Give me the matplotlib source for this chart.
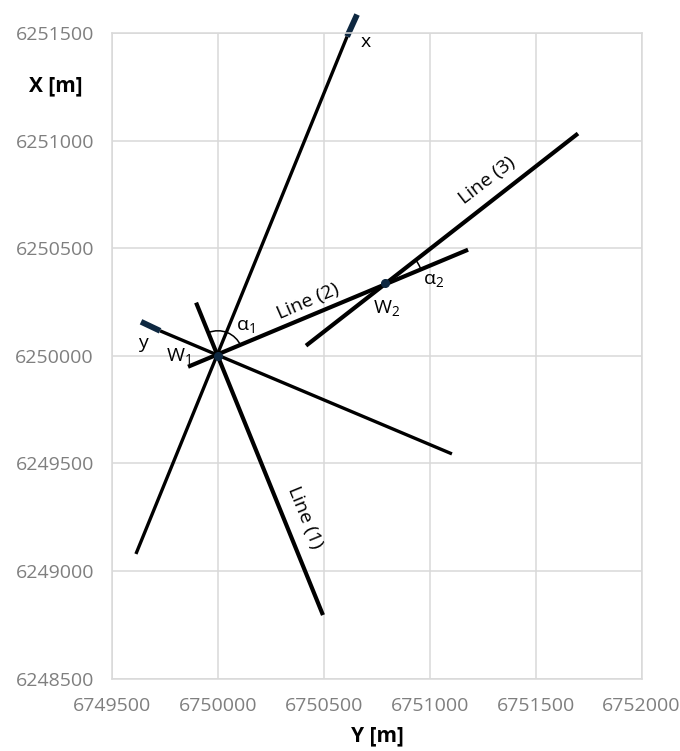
import matplotlib
matplotlib.use("Agg")
import matplotlib.pyplot as plt
from matplotlib.patches import Arc

plt.rcParams["font.family"] = ["Open Sans", "DejaVu Sans"]
plt.rcParams["mathtext.fontset"] = "custom"
plt.rcParams["mathtext.rm"] = "Open Sans"
plt.rcParams["mathtext.it"] = "Open Sans"
plt.rcParams["mathtext.default"] = "regular"

# Coordinates as (Y, X) pairs in metres
W1 = (6750000, 6250000)
W2 = (6750790, 6250340)

axis_x_Y = [6749613, 6750610]
axis_x_X = [6249079, 6251484]
arrow_x_Y = [6750610, 6750657]
arrow_x_X = [6251484, 6251586]

axis_y_Y = [6751105, 6749727]
axis_y_X = [6249544, 6250116]
arrow_y_Y = [6749727, 6749637]
arrow_y_X = [6250116, 6250158]

line1_Y = [6749897, 6750496]
line1_X = [6250247, 6248795]
line2_Y = [6749859, 6751181]
line2_X = [6249949, 6250493]
line3_Y = [6750416, 6751700]
line3_X = [6250047, 6251033]

xticks = [6749500, 6750000, 6750500, 6751000, 6751500, 6752000]
yticks = [6248500, 6249000, 6249500, 6250000, 6250500, 6251000, 6251500]

NAVY = "#0e2841"
GREY = "#7f7f7f"

fig = plt.figure(figsize=(6.8, 7.51), dpi=100)
ax = fig.add_axes([0.1647, 0.0965, 0.7787, 0.8595])

ax.set_xlim(xticks[0], xticks[-1])
ax.set_ylim(yticks[0], yticks[-1])
ax.set_xticks(xticks)
ax.set_yticks(yticks)
ax.set_xticklabels([str(v) for v in xticks])
ax.set_yticklabels([str(v) for v in yticks])
ax.tick_params(length=0, labelsize=14, colors=GREY, pad=13)
ax.grid(color="#d9d9d9", lw=1.1)
ax.set_axisbelow(True)
for s in ax.spines.values():
    s.set_color("#d9d9d9")
    s.set_linewidth(1.1)

# local axes and survey lines
ax.plot(axis_x_Y, axis_x_X, color="black", lw=2.4, solid_capstyle="butt")
ax.plot(arrow_x_Y, arrow_x_X, color=NAVY, lw=4.2, solid_capstyle="butt",
        clip_on=False)
ax.plot(axis_y_Y, axis_y_X, color="black", lw=2.4, solid_capstyle="butt")
ax.plot(arrow_y_Y, arrow_y_X, color=NAVY, lw=4.2, solid_capstyle="butt")
ax.plot(line1_Y, line1_X, color="black", lw=3, solid_capstyle="butt")
ax.plot(line2_Y, line2_X, color="black", lw=3, solid_capstyle="butt")
ax.plot(line3_Y, line3_X, color="black", lw=3, solid_capstyle="butt")

ax.plot([W1[0], W2[0]], [W1[1], W2[1]], ls="none", marker="o",
        ms=5.5, color=NAVY, zorder=5)

# angle arcs (radius given in pixels, converted per axis)
pxY, pxX = 0.2118, 0.215
ax.add_patch(Arc(W1, 2 * 25 / pxY, 2 * 25 / pxX, theta1=23.5, theta2=112,
                 color="black", lw=1.1))
ax.add_patch(Arc(W2, 2 * 38 / pxY, 2 * 38 / pxX, theta1=22, theta2=38,
                 color="black", lw=1.1))

kw = dict(fontsize=14, color="black", ha="center", va="center")
ax.text(6750699, 6251460, "x", **kw)
ax.text(6749646, 6250060, "y", **kw)
ax.text(6749816, 6250000, "W$_1$", **kw)
ax.text(6750798, 6250223, "W$_2$", **kw)
ax.text(6750128, 6250140, "α$_1$", **kw)
ax.text(6751016, 6250353, "α$_2$", **kw)
ax.text(6750411, 6249247, "Line (1)", rotation=-67.8, rotation_mode="anchor", **kw)
ax.text(6750425, 6250251, "Line (2)", rotation=23.5, rotation_mode="anchor", **kw)
ax.text(6751270, 6250815, "Line (3)", rotation=37.7, rotation_mode="anchor", **kw)

fig.text(56 / 680, 1 - 86 / 751, "X [m]", fontsize=15, fontweight="bold",
         ha="center", va="center")
fig.text(377 / 680, 1 - 736 / 751, "Y [m]", fontsize=15, fontweight="bold",
         ha="center", va="center")

fig.savefig("out.png", dpi=100)
